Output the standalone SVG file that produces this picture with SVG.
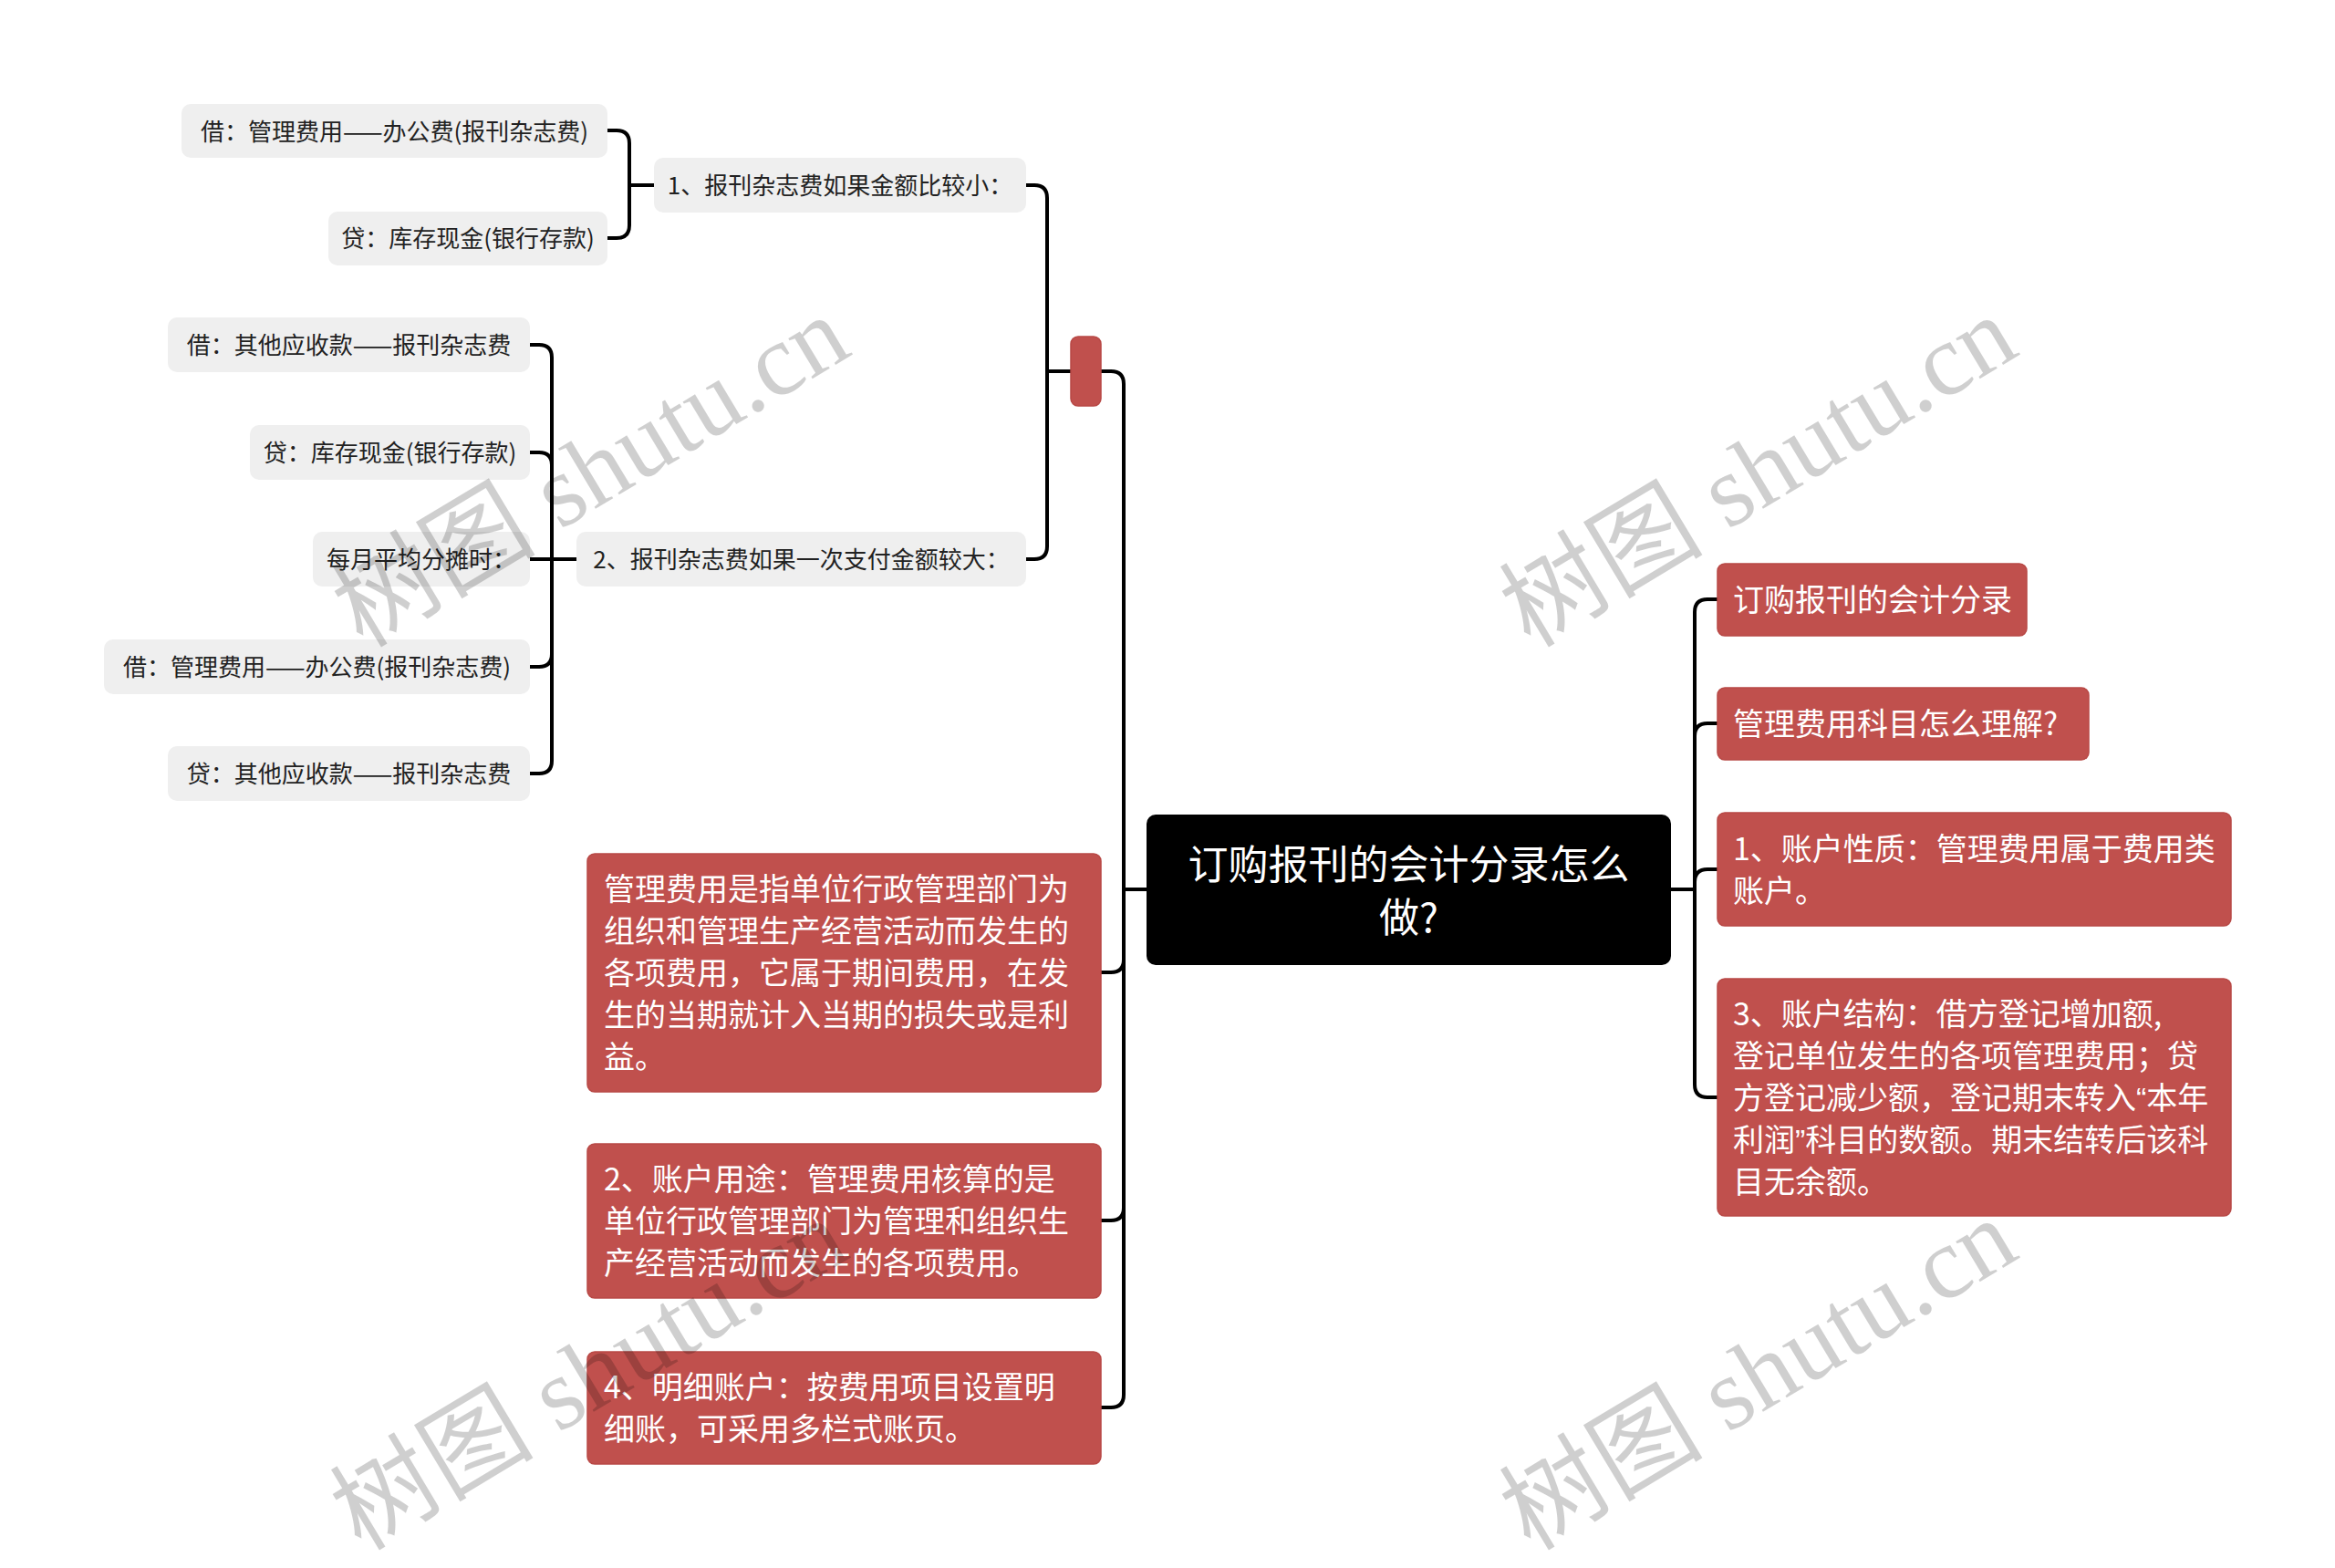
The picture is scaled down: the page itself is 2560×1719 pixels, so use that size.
<svg xmlns="http://www.w3.org/2000/svg" width="2560" height="1719" viewBox="0 0 2560 1719">
<style>
.g rect{fill:#efefef}
.g text{font-family:"Noto Sans CJK SC","Noto Sans",sans-serif;font-size:26px;fill:#222;text-anchor:middle}
.r rect{fill:#c0504d;stroke:#b84845;stroke-width:1.5}
.r text{font-family:"Noto Sans CJK SC","Noto Sans",sans-serif;font-size:34px;fill:#fff}
.q{font-family:"Liberation Sans",sans-serif}
.c rect{fill:#000}
.c text{font-family:"Noto Sans CJK SC","Noto Sans",sans-serif;font-size:44px;fill:#fff;text-anchor:middle}
.links path{fill:none;stroke:#000;stroke-width:4;stroke-linecap:round}
.wm{font-family:"Liberation Serif","Noto Sans CJK SC",serif;font-size:112px;fill:#000;fill-opacity:0.19;text-anchor:middle}
</style>
<rect width="2560" height="1719" fill="#fff"/>
<g class="links">
<path d="M1832,975 H1858"/>
<path d="M1858,975 V671 Q1858,657 1872,657 H1883"/>
<path d="M1858,975 V807 Q1858,793 1872,793 H1883"/>
<path d="M1858,975 V967 Q1858,953 1872,953 H1883"/>
<path d="M1858,975 V1189 Q1858,1203 1872,1203 H1883"/>
<path d="M1257,975 H1232"/>
<path d="M1232,975 V421 Q1232,407 1218,407 H1207"/>
<path d="M1232,975 V1052 Q1232,1066 1218,1066 H1207"/>
<path d="M1232,975 V1324 Q1232,1338 1218,1338 H1207"/>
<path d="M1232,975 V1529 Q1232,1543 1218,1543 H1207"/>
<path d="M1174,407 H1148"/>
<path d="M1148,407 V217 Q1148,203 1134,203 H1125"/>
<path d="M1148,407 V599 Q1148,613 1134,613 H1125"/>
<path d="M717,203 H690"/>
<path d="M690,203 V157 Q690,143 676,143 H666"/>
<path d="M690,203 V247 Q690,261 676,261 H666"/>
<path d="M632,613 H605"/>
<path d="M605,613 V392 Q605,378 591,378 H581"/>
<path d="M605,613 V510 Q605,496 591,496 H581"/>
<path d="M605,613 H581"/>
<path d="M605,613 V717 Q605,731 591,731 H581"/>
<path d="M605,613 V834 Q605,848 591,848 H581"/>
</g>
<g id="root" class="c">
<rect x="1257" y="893" width="575" height="165" rx="10"/>
<text x="1544.5" y="964">订购报刊的会计分录怎么</text>
<text x="1544.5" y="1022">做?</text>
</g>
<g id="r1" class="r">
<rect x="1883" y="618" width="339" height="79" rx="8"/>
<text x="1900" y="670">订购报刊的会计分录</text>
</g>
<g id="r2" class="r">
<rect x="1883" y="754" width="407" height="79" rx="8"/>
<text x="1900" y="806">管理费用科目怎么理解?</text>
</g>
<g id="r3" class="r">
<rect x="1883" y="891" width="563" height="124" rx="8"/>
<text x="1900" y="943">1、账户性质：管理费用属于费用类</text>
<text x="1900" y="989">账户。</text>
</g>
<g id="r4" class="r">
<rect x="1883" y="1073" width="563" height="260" rx="8"/>
<text x="1900" y="1124">3、账户结构：借方登记增加额,</text>
<text x="1900" y="1170">登记单位发生的各项管理费用；贷</text>
<text x="1900" y="1216">方登记减少额，登记期末转入<tspan class="q">“</tspan>本年</text>
<text x="1900" y="1262">利润<tspan class="q">”</tspan>科目的数额。期末结转后该科</text>
<text x="1900" y="1308">目无余额。</text>
</g>
<g id="la" class="r">
<rect x="1174" y="369" width="33" height="76" rx="8"/>
</g>
<g id="lb" class="r">
<rect x="644" y="936" width="563" height="261" rx="8"/>
<text x="662" y="987">管理费用是指单位行政管理部门为</text>
<text x="662" y="1033">组织和管理生产经营活动而发生的</text>
<text x="662" y="1079">各项费用，它属于期间费用，在发</text>
<text x="662" y="1125">生的当期就计入当期的损失或是利</text>
<text x="662" y="1171">益。</text>
</g>
<g id="lc" class="r">
<rect x="644" y="1254" width="563" height="169" rx="8"/>
<text x="662" y="1305">2、账户用途：管理费用核算的是</text>
<text x="662" y="1351">单位行政管理部门为管理和组织生</text>
<text x="662" y="1397">产经营活动而发生的各项费用。</text>
</g>
<g id="ld" class="r">
<rect x="644" y="1482" width="563" height="123" rx="8"/>
<text x="662" y="1533">4、明细账户：按费用项目设置明</text>
<text x="662" y="1579">细账，可采用多栏式账页。</text>
</g>
<g id="g1" class="g">
<rect x="717" y="173" width="408" height="60" rx="10"/>
<text x="921" y="213">1、报刊杂志费如果金额比较小：</text>
</g>
<g id="g2" class="g">
<rect x="632" y="583" width="493" height="60" rx="10"/>
<text x="878.5" y="623">2、报刊杂志费如果一次支付金额较大：</text>
</g>
<g id="g1a" class="g">
<rect x="199" y="114" width="467" height="59" rx="10"/>
<text x="432.5" y="153.5">借：管理费用——办公费(报刊杂志费)</text>
</g>
<g id="g1b" class="g">
<rect x="360" y="232" width="306" height="59" rx="10"/>
<text x="513" y="271">贷：库存现金(银行存款)</text>
</g>
<g id="g2a" class="g">
<rect x="184" y="348" width="397" height="60" rx="10"/>
<text x="382.5" y="388">借：其他应收款——报刊杂志费</text>
</g>
<g id="g2b" class="g">
<rect x="274" y="466" width="307" height="60" rx="10"/>
<text x="427.5" y="506">贷：库存现金(银行存款)</text>
</g>
<g id="g2c" class="g">
<rect x="343" y="583" width="238" height="60" rx="10"/>
<text x="462" y="623">每月平均分摊时：</text>
</g>
<g id="g2d" class="g">
<rect x="114" y="701" width="467" height="60" rx="10"/>
<text x="347.5" y="741">借：管理费用——办公费(报刊杂志费)</text>
</g>
<g id="g2e" class="g">
<rect x="184" y="818" width="397" height="60" rx="10"/>
<text x="382.5" y="858">贷：其他应收款——报刊杂志费</text>
</g>
<g id="watermarks">
<text class="wm" x="647" y="555" transform="rotate(-31 647 516)">树图 shutu.cn</text>
<text class="wm" x="1927" y="555" transform="rotate(-31 1927 516)">树图 shutu.cn</text>
<text class="wm" x="645" y="1545" transform="rotate(-31 645 1506)">树图 shutu.cn</text>
<text class="wm" x="1927" y="1545" transform="rotate(-31 1927 1506)">树图 shutu.cn</text>
</g>
</svg>
